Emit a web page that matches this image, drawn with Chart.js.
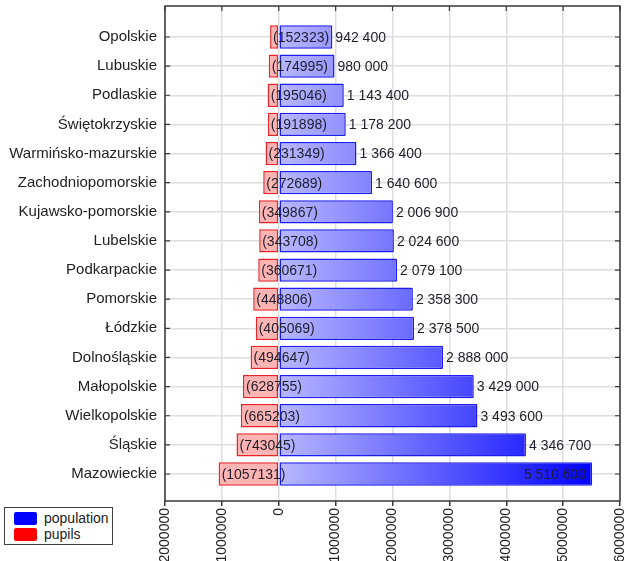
<!DOCTYPE html>
<html>
<head>
<meta charset="utf-8">
<script src="https://cdn.jsdelivr.net/npm/chart.js@4.4.1/dist/chart.umd.min.js"></script>
<style>
    html, body { margin: 0; padding: 0; background: #fff; }
    #wrap { position: relative; width: 626px; height: 561px; }
    #legend {
        position: absolute; left: 4px; top: 507px; width: 107px; height: 36px;
        border: 1px solid #404040; background: #fff;
        font: 14px "Liberation Sans", Arial, sans-serif; color: #222;
    }
    #legend div { position: absolute; left: 9px; height: 17px; line-height: 16px; }
    #legend span { display: inline-block; width: 23px; height: 13px; border-radius: 2px; vertical-align: -2px; margin-right: 7px; }
</style>
</head>
<body>
<div id="wrap">
    <canvas id="chart" width="626" height="561"></canvas>
    <div id="legend">
        <div style="top:2px"><span style="background:#0000ff"></span>population</div>
        <div style="top:18px"><span style="background:#ff0000"></span>pupils</div>
    </div>
</div>
<script>
/*************************************************
 * 1. Data
 *************************************************/
const regions = [
    "Opolskie", "Lubuskie", "Podlaskie", "Świętokrzyskie", "Warmińsko-mazurskie",
    "Zachodniopomorskie", "Kujawsko-pomorskie", "Lubelskie", "Podkarpackie", "Pomorskie",
    "Łódzkie", "Dolnośląskie", "Małopolskie", "Wielkopolskie", "Śląskie", "Mazowieckie"
];
const population = [
    942400, 980000, 1143400, 1178200, 1366400,
    1640600, 2006900, 2024600, 2079100, 2358300,
    2378500, 2888000, 3429000, 3493600, 4346700, 5510600
];
const pupils = [
    152323, 174995, 195046, 191898, 231349,
    272689, 349867, 343708, 360671, 448806,
    405069, 494647, 628755, 665203, 743045, 1057131
];
const xTicks = [-2000000, -1000000, 0, 1000000, 2000000, 3000000, 4000000, 5000000, 6000000];

const FONT = '"Liberation Sans", Arial, sans-serif';
const fmtSpace = v => String(v).replace(/\B(?=(\d{3})+(?!\d))/g, " ");

/*************************************************
 * 2. Plugins: frame, inward ticks, value labels
 *************************************************/
const framePlugin = {
    id: "frame",
    afterDraw(chart) {
        const { ctx, chartArea: a, scales } = chart;
        ctx.save();
        ctx.strokeStyle = "#383838";
        ctx.lineWidth = 1.5;
        ctx.strokeRect(a.left, a.top, a.right - a.left, a.bottom - a.top);
        ctx.lineWidth = 1.2;
        ctx.beginPath();
        regions.forEach((r, i) => {
            const y = scales.y.getPixelForValue(i);
            ctx.moveTo(a.left, y); ctx.lineTo(a.left + 5, y);
            ctx.moveTo(a.right, y); ctx.lineTo(a.right - 5, y);
        });
        xTicks.forEach(v => {
            const x = scales.x.getPixelForValue(v);
            ctx.moveTo(x, a.top); ctx.lineTo(x, a.top + 5);
        });
        ctx.stroke();
        ctx.restore();
    }
};

const labelPlugin = {
    id: "valueLabels",
    afterDatasetsDraw(chart) {
        const { ctx, chartArea: a } = chart;
        ctx.save();
        ctx.font = "14px " + FONT;
        ctx.fillStyle = "#1e1e2a";
        ctx.textBaseline = "middle";

        chart.getDatasetMeta(1).data.forEach((bar, i) => {
            ctx.textAlign = "left";
            ctx.fillText("(" + pupils[i] + ")", bar.x + 3, bar.y + 1);
        });

        chart.getDatasetMeta(0).data.forEach((bar, i) => {
            const txt = fmtSpace(population[i]);
            const w = ctx.measureText(txt).width;
            if (bar.x + 3 + w > a.right - 2) {
                ctx.textAlign = "right";
                ctx.fillText(txt, bar.x - 6, bar.y + 1);
            } else {
                ctx.textAlign = "left";
                ctx.fillText(txt, bar.x + 3, bar.y + 1);
            }
        });
        ctx.restore();
    }
};

/*************************************************
 * 3. Chart
 *************************************************/
function blueGradient(context) {
    const chart = context.chart;
    const x = chart.scales.x;
    if (!chart.chartArea || !x) return "#8080ff";
    const x0 = x.getPixelForValue(0);
    const x1 = x.getPixelForValue(5550000);
    if (!isFinite(x0) || !isFinite(x1)) return "#8080ff";
    const g = chart.ctx.createLinearGradient(x0, 0, x1, 0);
    g.addColorStop(0, "#b8b8ff");
    g.addColorStop(1, "#0000ff");
    return g;
}

new Chart(document.getElementById("chart"), {
    type: "bar",
    data: {
        labels: regions.map((r, i) => i),
        datasets: [
            {
                label: "population",
                data: population.map((v, i) => ({ x: v, y: i })),
                backgroundColor: blueGradient,
                borderColor: "#1c1cf0",
                borderWidth: 1.5,
                borderSkipped: false,
                borderRadius: 1,
                grouped: false,
                barPercentage: 0.8,
                categoryPercentage: 1,
                order: 2
            },
            {
                label: "pupils",
                data: pupils.map((v, i) => ({ x: -v, y: i })),
                backgroundColor: "#ffb4b4",
                borderColor: "#e8242a",
                borderWidth: 1.5,
                borderSkipped: false,
                grouped: false,
                barPercentage: 0.8,
                categoryPercentage: 1,
                order: 1
            }
        ]
    },
    options: {
        indexAxis: "y",
        responsive: false,
        animation: false,
        layout: { padding: { top: 6, right: 6, left: 0, bottom: 0 } },
        plugins: {
            legend: { display: false },
            tooltip: { enabled: false }
        },
        scales: {
            x: {
                type: "linear",
                min: -2000000,
                max: 6000000,
                afterBuildTicks: s => { s.ticks = xTicks.map(v => ({ value: v })); },
                afterFit: s => { s.height = 60; s.paddingLeft = 0; s.paddingRight = 0; },
                ticks: {
                    autoSkip: false,
                    minRotation: 90,
                    maxRotation: 90,
                    padding: 2,
                    color: "#222",
                    font: { family: FONT, size: 14 },
                    callback: v => String(Math.abs(v))
                },
                grid: { color: "#dedede", lineWidth: 1.5, tickColor: "#383838", tickLength: 5 },
                border: { display: false }
            },
            y: {
                type: "linear",
                reverse: true,
                offset: false,
                min: -1.064,
                max: 15.927,
                afterBuildTicks: s => { s.ticks = regions.map((r, i) => ({ value: i })); },
                afterFit: s => { s.width = 165; s.paddingTop = 0; s.paddingBottom = 0; },
                ticks: {
                    autoSkip: false,
                    padding: 8,
                    color: "#222",
                    font: { family: FONT, size: 15 },
                    callback: v => regions[v] || ""
                },
                grid: { color: "#dedede", lineWidth: 1.5, drawTicks: false, offset: false },
                border: { display: false }
            }
        }
    },
    plugins: [framePlugin, labelPlugin]
});
</script>
</body>
</html>
